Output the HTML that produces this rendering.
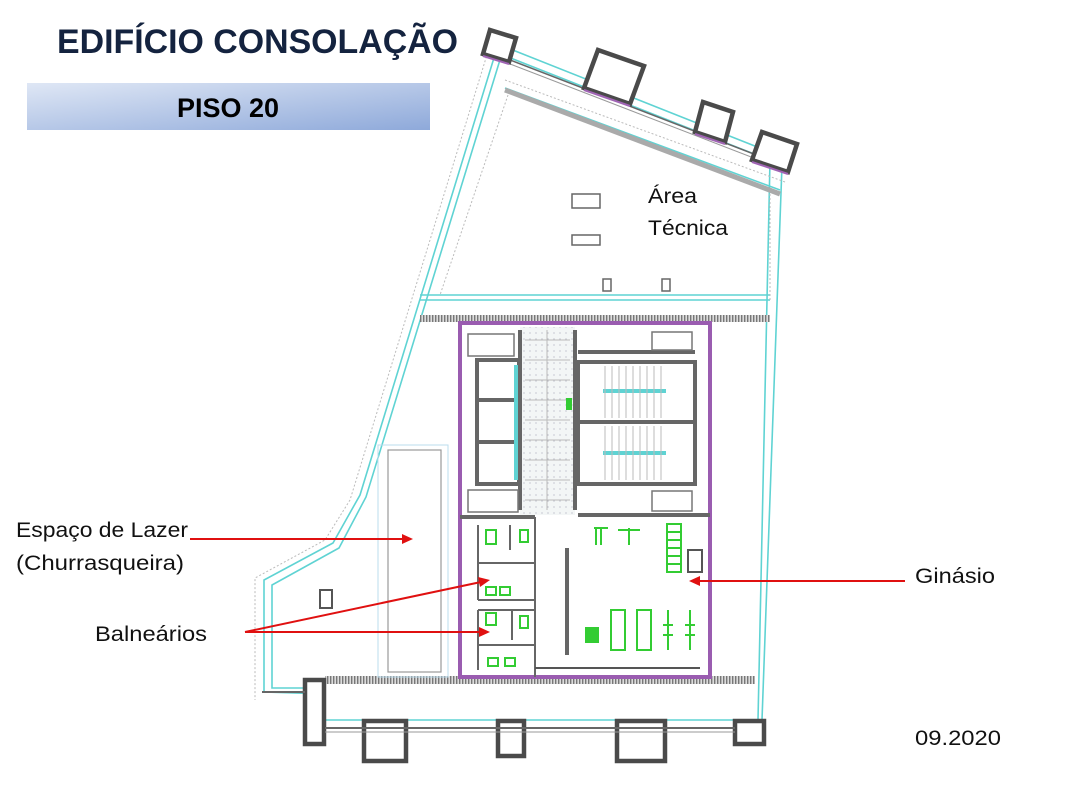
<!DOCTYPE html>
<html><head><meta charset="utf-8"><style>
html,body{margin:0;padding:0;background:#fff;}
body{width:1080px;height:810px;overflow:hidden;position:relative;font-family:"Liberation Sans",sans-serif;}
</style></head><body>
<svg width="1080" height="810" viewBox="0 0 1080 810" xmlns="http://www.w3.org/2000/svg" style="position:absolute;left:0;top:0">
<defs>
<linearGradient id="g" x1="0" y1="0" x2="1" y2="1">
<stop offset="0" stop-color="#dfe7f5"/><stop offset="1" stop-color="#8ea9da"/>
</linearGradient>
<pattern id="hatch" width="3" height="8" patternUnits="userSpaceOnUse">
<rect width="3" height="8" fill="#ddd"/><rect width="1.4" height="8" fill="#777"/>
</pattern>
<pattern id="dots" width="6" height="6" patternUnits="userSpaceOnUse">
<rect width="6" height="6" fill="#f3f6f6"/><circle cx="2" cy="3" r="0.6" fill="#aab"/>
</pattern>
</defs>

<!-- title -->
<text x="57" y="53" font-size="34" font-weight="bold" fill="#14233f" textLength="401" lengthAdjust="spacingAndGlyphs">EDIFÍCIO CONSOLAÇÃO</text>
<rect x="27" y="83" width="403" height="47" fill="url(#g)"/>
<text x="228" y="117" font-size="27" font-weight="bold" fill="#000" text-anchor="middle">PISO 20</text>

<!-- outer boundary -->
<g fill="none" stroke="#5fd3d3" stroke-width="1.6">
<polyline points="497,48 360,495 333,543 264,580 264,692 325,694"/>
<polyline points="503,50 366,497 339,548 272,585 272,688 320,688"/>
<polyline points="500,45 790,160 770,160 758,720 325,720"/>
<polyline points="503,55 782,165 762,720"/>
<line x1="505" y1="88" x2="780" y2="190"/>
<line x1="420" y1="295" x2="770" y2="295"/>
<line x1="420" y1="300" x2="770" y2="300"/>
</g>
<g fill="none" stroke="#bbb" stroke-width="1" stroke-dasharray="2,2">
<polyline points="490,45 350,500 325,540 255,578 255,700"/>
<polyline points="508,95 440,295"/>
<line x1="770" y1="190" x2="770" y2="300"/>
<line x1="505" y1="80" x2="785" y2="182"/>
</g>
<line x1="505" y1="90" x2="780" y2="194" stroke="#aaa" stroke-width="5"/>
<line x1="505" y1="58" x2="790" y2="168" stroke="#666" stroke-width="1.5"/>
<line x1="505" y1="62" x2="790" y2="172" stroke="#999" stroke-width="1"/>

<!-- top towers -->
<g fill="#fff" stroke="#4a4a4a" stroke-width="4.5">
<polygon points="490,30 516,38 509,62 483,54"/>
<polygon points="598,50 644,66 630,104 584,88"/>
<polygon points="703,102 733,112 725,142 695,132"/>
<polygon points="762,132 797,144 788,172 752,160"/>
</g>
<g stroke="#a064b4" stroke-width="2">
<line x1="483" y1="56" x2="509" y2="64"/>
<line x1="584" y1="90" x2="630" y2="106"/>
<line x1="695" y1="134" x2="725" y2="144"/>
<line x1="752" y1="162" x2="788" y2="174"/>
</g>

<!-- area tecnica objects -->
<g fill="#fff" stroke="#666" stroke-width="1.5">
<rect x="572" y="194" width="28" height="14"/>
<rect x="572" y="235" width="28" height="10"/>
<rect x="603" y="279" width="8" height="12"/>
<rect x="662" y="279" width="8" height="12"/>
</g>
<text x="648" y="203" font-size="21" fill="#111" textLength="49" lengthAdjust="spacingAndGlyphs">Área</text>
<text x="648" y="235" font-size="21" fill="#111" textLength="80" lengthAdjust="spacingAndGlyphs">Técnica</text>

<!-- hatched bands -->
<rect x="420" y="315" width="350" height="7" fill="url(#hatch)"/>
<rect x="325" y="676" width="430" height="8" fill="url(#hatch)"/>

<!-- churrasqueira -->
<rect x="388" y="450" width="53" height="222" fill="none" stroke="#999" stroke-width="1.2"/>
<rect x="378" y="445" width="70" height="232" fill="none" stroke="#bde" stroke-width="1"/>
<rect x="320" y="590" width="12" height="18" fill="#fff" stroke="#555" stroke-width="2"/>

<!-- core -->
<rect x="460" y="323" width="250" height="354" fill="#fff" stroke="#9a5cb0" stroke-width="4"/>
<rect x="520" y="327" width="55" height="188" fill="url(#dots)"/>
<g fill="none" stroke="#666" stroke-width="4">
<rect x="477" y="360" width="42" height="124"/>
<line x1="477" y1="400" x2="519" y2="400"/>
<line x1="477" y1="442" x2="519" y2="442"/>
<rect x="578" y="362" width="117" height="122"/>
<line x1="578" y1="422" x2="695" y2="422"/>
<line x1="460" y1="517" x2="535" y2="517"/>
<line x1="578" y1="515" x2="710" y2="515"/>
<line x1="578" y1="352" x2="695" y2="352"/>
<line x1="575" y1="330" x2="575" y2="510"/>
<line x1="520" y1="330" x2="520" y2="510"/>
</g>
<g stroke="#5fd3d3" stroke-width="4">
<line x1="603" y1="391" x2="666" y2="391"/>
<line x1="603" y1="453" x2="666" y2="453"/>
<line x1="516" y1="365" x2="516" y2="480"/>
</g>
<g stroke="#bbb" stroke-width="1">
<path d="M605 366 V418 M612 366 V418 M619 366 V418 M626 366 V418 M633 366 V418 M640 366 V418 M647 366 V418 M654 366 V418 M661 366 V418"/>
<path d="M605 426 V480 M612 426 V480 M619 426 V480 M626 426 V480 M633 426 V480 M640 426 V480 M647 426 V480 M654 426 V480 M661 426 V480"/>
<path d="M525 340 H570 M525 360 H570 M525 380 H570 M525 400 H570 M525 420 H570 M525 440 H570 M525 460 H570 M525 480 H570 M525 500 H570 M547 330 V510"/>
</g>
<rect x="566" y="398" width="6" height="12" fill="#3c3"/>
<rect x="468" y="490" width="50" height="22" fill="none" stroke="#777" stroke-width="1.5"/>
<rect x="652" y="491" width="40" height="20" fill="none" stroke="#777" stroke-width="1.5"/>
<rect x="652" y="332" width="40" height="18" fill="none" stroke="#777" stroke-width="1.5"/>
<rect x="468" y="334" width="46" height="22" fill="none" stroke="#777" stroke-width="1.5"/>

<!-- balnearios -->
<g fill="none" stroke="#666" stroke-width="2">
<line x1="535" y1="517" x2="535" y2="677"/>
<line x1="478" y1="525" x2="478" y2="600"/>
<line x1="478" y1="563" x2="535" y2="563"/>
<line x1="478" y1="600" x2="535" y2="600"/>
<line x1="478" y1="610" x2="535" y2="610"/>
<line x1="478" y1="645" x2="535" y2="645"/>
<line x1="478" y1="610" x2="478" y2="670"/>
<line x1="510" y1="525" x2="510" y2="550"/>
<line x1="512" y1="610" x2="512" y2="640"/>
</g>
<g fill="none" stroke="#3c3" stroke-width="2">
<rect x="486" y="530" width="10" height="14"/><rect x="520" y="530" width="8" height="12"/>
<rect x="486" y="587" width="10" height="8"/><rect x="500" y="587" width="10" height="8"/>
<rect x="486" y="613" width="10" height="12"/><rect x="520" y="616" width="8" height="12"/>
<rect x="488" y="658" width="10" height="8"/><rect x="505" y="658" width="10" height="8"/>
</g>

<!-- gym -->
<line x1="567" y1="548" x2="567" y2="655" stroke="#666" stroke-width="4"/>
<line x1="535" y1="668" x2="700" y2="668" stroke="#555" stroke-width="2"/>
<rect x="688" y="550" width="14" height="22" fill="#fff" stroke="#555" stroke-width="2"/>
<g fill="none" stroke="#3c3" stroke-width="2">
<path d="M594 528 H608 M601 528 V545 M596 528 V545"/>
<path d="M618 530 H640 M629 528 V545"/>
<rect x="667" y="524" width="14" height="48"/>
<path d="M667 532 H681 M667 540 H681 M667 548 H681 M667 556 H681 M667 564 H681"/>
<rect x="611" y="610" width="14" height="40"/><rect x="637" y="610" width="14" height="40"/>
<path d="M668 610 V650 M690 610 V650 M663 625 H673 M685 625 H695 M663 635 H673 M685 635 H695"/>
</g>
<rect x="585" y="627" width="14" height="16" fill="#3c3"/>

<!-- bottom towers -->
<g fill="#fff" stroke="#4a4a4a" stroke-width="4.5">
<rect x="305" y="680" width="19" height="64"/>
<rect x="364" y="721" width="42" height="40"/>
<rect x="498" y="721" width="26" height="35"/>
<rect x="617" y="721" width="48" height="40"/>
<rect x="735" y="721" width="29" height="23"/>
</g>
<line x1="325" y1="728" x2="735" y2="728" stroke="#666" stroke-width="2"/>
<line x1="325" y1="732" x2="735" y2="732" stroke="#999" stroke-width="1"/>
<line x1="262" y1="692" x2="305" y2="692" stroke="#666" stroke-width="2"/>

<!-- labels & arrows -->
<g stroke="#e01010" stroke-width="2" fill="#e01010">
<line x1="190" y1="539" x2="404" y2="539"/><polygon points="413,539 402,534 402,544" stroke="none"/>
<line x1="245" y1="632" x2="481" y2="582"/><polygon points="490,580 478,577 480,587" stroke="none"/>
<line x1="245" y1="632" x2="481" y2="632"/><polygon points="490,632 479,627 479,637" stroke="none"/>
<line x1="905" y1="581" x2="698" y2="581"/><polygon points="689,581 700,576 700,586" stroke="none"/>
</g>
<g font-size="21" fill="#111" lengthAdjust="spacingAndGlyphs">
<text x="16" y="537" textLength="172" lengthAdjust="spacingAndGlyphs">Espaço de Lazer</text>
<text x="16" y="570" textLength="168" lengthAdjust="spacingAndGlyphs">(Churrasqueira)</text>
<text x="95" y="641" textLength="112" lengthAdjust="spacingAndGlyphs">Balneários</text>
<text x="915" y="583" textLength="80" lengthAdjust="spacingAndGlyphs">Ginásio</text>
<text x="915" y="745" textLength="86" lengthAdjust="spacingAndGlyphs">09.2020</text>
</g>
</svg>
</body></html>
